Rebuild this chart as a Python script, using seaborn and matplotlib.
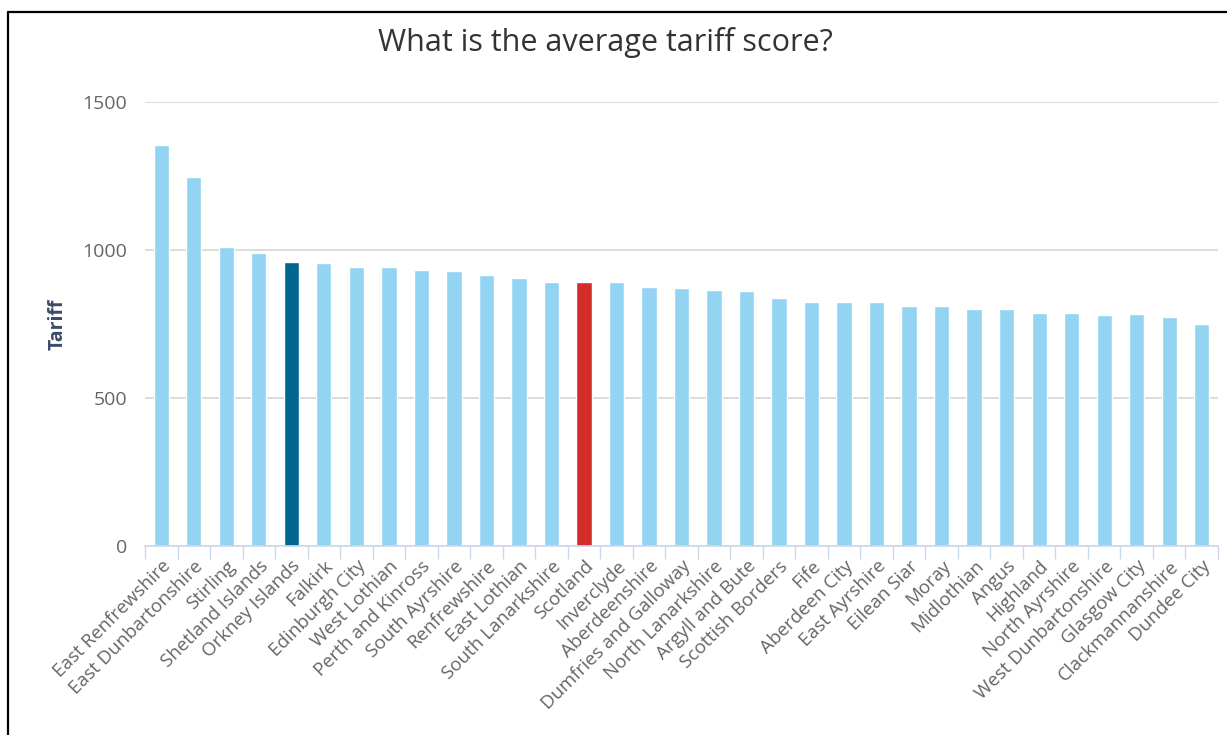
import pandas as pd
import numpy as np
import matplotlib.pyplot as plt
import seaborn as sns
from matplotlib.lines import Line2D

# Data
areas = ['East Renfrewshire', 'East Dunbartonshire', 'Stirling', 'Shetland Islands',
         'Orkney Islands', 'Falkirk', 'Edinburgh City', 'West Lothian',
         'Perth and Kinross', 'South Ayrshire', 'Renfrewshire', 'East Lothian',
         'South Lanarkshire', 'Scotland', 'Inverclyde', 'Aberdeenshire',
         'Dumfries and Galloway', 'North Lanarkshire', 'Argyll and Bute',
         'Scottish Borders', 'Fife', 'Aberdeen City', 'East Ayrshire', 'Eilean Siar',
         'Moray', 'Midlothian', 'Angus', 'Highland', 'North Ayrshire',
         'West Dunbartonshire', 'Glasgow City', 'Clackmannanshire', 'Dundee City']
tariff = [1354, 1245, 1009, 990, 958, 957, 942, 941, 934, 929, 917, 904, 892, 893,
          891, 874, 873, 865, 860, 838, 825, 825, 825, 811, 811, 800, 801, 788, 788,
          782, 783, 774, 749]
highlight_area = 'Orkney Islands'
national_area = 'Scotland'
y_ticks = [0, 500, 1000, 1500]

df = pd.DataFrame({'area': areas, 'tariff': tariff})

light_blue = '#92d4f2'
dark_blue = '#00668f'
red = '#d42b2b'
palette = {a: light_blue for a in areas}
palette[highlight_area] = dark_blue
palette[national_area] = red

sns.set_theme(style='white')
plt.rcParams['font.family'] = ['Open Sans', 'DejaVu Sans']

fig = plt.figure(figsize=(12.27, 7.35), dpi=100)
ax = fig.add_axes([145 / 1227, 1 - 546 / 735, 1073 / 1227, 444 / 735])

sns.barplot(data=df, x='area', y='tariff', hue='area', order=areas,
            palette=palette, legend=False, width=0.47, saturation=1, ax=ax)

ax.set_ylim(0, 1500)
ax.set_xlim(-0.5, len(areas) - 0.5)
ax.set_yticks(y_ticks)
ax.set_yticklabels([str(t) for t in y_ticks], fontsize=14, color='#666666')
ax.yaxis.grid(True, color='#d6d6d6', linewidth=1.2)
ax.set_axisbelow(True)
ax.tick_params(axis='y', length=0, pad=13)

# x labels at bar centres, tick marks at category boundaries
ax.set_xticks(range(len(areas)))
ax.set_xticklabels(areas, rotation=45, ha='right', rotation_mode='anchor',
                   fontsize=13.5, color='#666666')
ax.tick_params(axis='x', which='major', length=0, pad=8)
ax.set_xticks(np.arange(-0.5, len(areas), 1), minor=True)
ax.tick_params(axis='x', which='minor', length=9, width=1, color='#ccd6eb',
               direction='out', bottom=True)

for side in ['top', 'right', 'left']:
    ax.spines[side].set_visible(False)
ax.spines['bottom'].set_color('#ccd6eb')
ax.spines['bottom'].set_linewidth(1.2)

ax.set_xlabel('')
ax.set_ylabel('Tariff', fontsize=14, fontweight='bold', color='#3c4a6b')
ax.yaxis.set_label_coords((68 - 145) / 1073, 0.5)

fig.text(605 / 1227, 1 - 42 / 735, 'What is the average tariff score?',
         ha='center', va='center', fontsize=22, color='#333333')

# black frame on the top and left of the image
fig.add_artist(Line2D([8 / 1227, 8 / 1227], [0, 1 - 12 / 735], color='black',
                      linewidth=1.6, transform=fig.transFigure))
fig.add_artist(Line2D([8 / 1227, 1], [1 - 12 / 735, 1 - 12 / 735], color='black',
                      linewidth=1.6, transform=fig.transFigure))

fig.savefig('out.png', dpi=100)
plt.close()
